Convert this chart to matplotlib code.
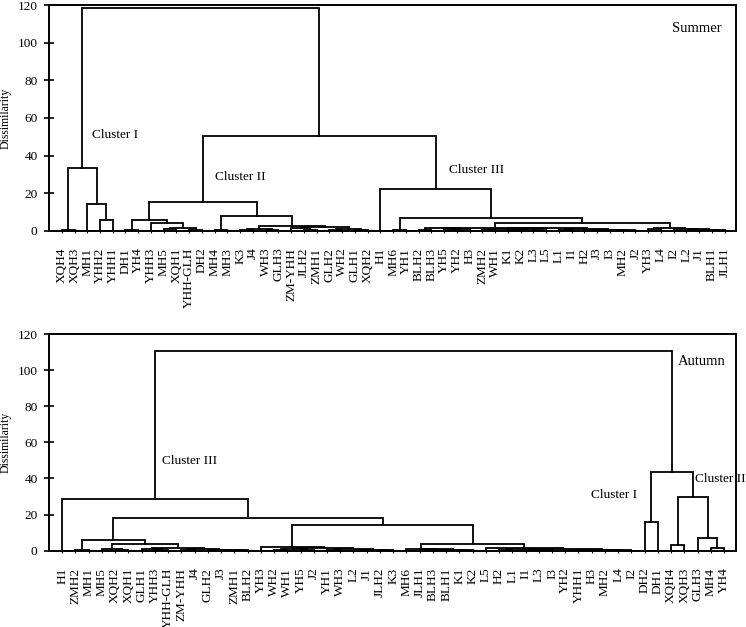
import matplotlib
matplotlib.use("Agg")
import matplotlib.pyplot as plt

plt.rcParams["font.family"] = ["Liberation Serif", "DejaVu Serif"]

# leaf order of each dendrogram (x axis categories)
summer_leaves = ["XQH4", "XQH3", "MH1", "YHH2", "YHH1", "DH1", "YH4", "YHH3", "MH5",
                 "XQH1", "YHH-GLH", "DH2", "MH4", "MH3", "K3", "J4", "WH3", "GLH3",
                 "ZM-YHH", "JLH2", "ZMH1", "GLH2", "WH2", "GLH1", "XQH2", "H1", "MH6",
                 "YH1", "BLH2", "BLH3", "YH5", "YH2", "H3", "ZMH2", "WH1", "K1", "K2",
                 "L3", "L5", "L1", "I1", "H2", "J3", "I3", "MH2", "J2", "YH3", "L4",
                 "I2", "L2", "J1", "BLH1", "JLH1"]

autumn_leaves = ["H1", "ZMH2", "MH1", "MH5", "XQH2", "XQH1", "GLH1", "YHH3", "YHH-GLH",
                 "ZM-YHH", "J4", "GLH2", "J3", "ZMH1", "BLH2", "YH3", "WH2", "WH1", "YH5",
                 "J2", "YH1", "WH3", "L2", "J1", "JLH2", "K3", "MH6", "JLH1", "BLH3",
                 "BLH1", "K1", "K2", "L5", "H2", "L1", "I1", "L3", "I3", "YH2", "YHH1",
                 "H3", "MH2", "L4", "I2", "DH2", "DH1", "XQH4", "XQH3", "GLH3", "MH4",
                 "YH4"]

# merges as [left, right, dissimilarity]
s_cluster1 = [["XQH4", "XQH3", 0.6], ["MH1", ["YHH2", "YHH1", 5.7], 14.2], 33.2]
s_c2_left = [["DH1", "YH4", 0.5],
             ["YHH3", [["MH5", "XQH1", 0.9], ["YHH-GLH", "DH2", 0.5], 1.4], 4.3], 5.7]
s_c2_right = [["MH4", "MH3", 0.5],
              [[["K3", "J4", 0.3], ["WH3", "GLH3", 0.4], 0.7],
               [["ZM-YHH", ["JLH2", "ZMH1", 0.6], 1.2],
                [["GLH2", "WH2", 0.5], ["GLH1", "XQH2", 0.4], 1.0], 1.8], 2.5], 7.8]
s_cluster2 = [s_c2_left, s_c2_right, 15.4]
s_c3_a = [[["BLH2", "BLH3", 0.5], [["YH5", "YH2", 0.3], "H3", 0.7], 1.2],
          [[["ZMH2", "WH1", 0.6], [["K1", "K2", 0.4], ["L3", "L5", 0.3], 0.8], 1.0],
           [["L1", "I1", 0.3], [["H2", "J3", 0.2], [["I3", "MH2", 0.2], "J2", 0.3], 0.5], 0.7],
           1.3], 1.6]
s_c3_b = [["YH3", "L4", 0.8], ["I2", ["L2", ["J1", ["BLH1", "JLH1", 0.2], 0.4], 0.7], 1.0], 1.4]
s_cluster3 = ["H1", [["MH6", "YH1", 0.3], [s_c3_a, s_c3_b, 3.9], 6.6], 22.0]
summer_tree = [s_cluster1, [s_cluster2, s_cluster3, 50.4], 118.3]

a_c3_left = [["ZMH2", "MH1", 0.4],
             [["MH5", ["XQH2", "XQH1", 0.3], 0.8],
              [["GLH1", ["YHH3", "YHH-GLH", 0.5], 0.8],
               [["ZM-YHH", "J4", 0.4], ["GLH2", ["J3", ["ZMH1", "BLH2", 0.2], 0.3], 0.5], 0.9],
               1.3], 3.5], 5.9]
a_c3_mid = ["YH3", [[["WH2", "WH1", 0.5], ["YH5", "J2", 0.4], 0.9],
                    [["YH1", "WH3", 0.5], [["L2", "J1", 0.3], ["JLH2", "K3", 0.3], 0.5], 0.8],
                    1.5], 2.2]
a_c3_right = [["MH6", ["JLH1", [["BLH3", "BLH1", 0.3], ["K1", "K2", 0.4], 0.6], 0.9], 1.2],
              ["L5", [[["H2", "L1", 0.3], [["I1", "L3", 0.4], "I3", 0.6], 0.8],
                      [[["YH2", "YHH1", 0.2], "H3", 0.3], [["MH2", "L4", 0.2], "I2", 0.3], 0.5],
                      0.9], 1.3], 3.7]
a_cluster3 = ["H1", [a_c3_left, [a_c3_mid, a_c3_right, 14.4], 18.3], 28.5]
a_cluster12 = [["DH2", "DH1", 15.7],
               [["XQH4", "XQH3", 3.2], ["GLH3", ["MH4", "YH4", 1.7], 6.8], 29.6], 43.7]
autumn_tree = [a_cluster3, a_cluster12, 110.6]

# text annotations: (text, x in leaf units, y)
summer_notes = [("Summer", 47.9, 107.5, 10.5), ("Cluster I", 2.35, 51.0, 9.5),
                ("Cluster II", 12.05, 28.7, 9.5), ("Cluster III", 30.4, 32.3, 9.5)]
autumn_notes = [("Autumn", 46.5, 105.0, 10.5), ("Cluster III", 7.5, 49.7, 9.5),
                ("Cluster I", 39.95, 30.8, 9.5), ("Cluster II", 47.8, 39.5, 9.5)]


def draw_node(ax, node, leaves):
    if isinstance(node, str):
        return leaves.index(node), 0.0
    left, right, h = node
    xl, hl = draw_node(ax, left, leaves)
    xr, hr = draw_node(ax, right, leaves)
    ax.plot([xl, xl, xr, xr], [hl, h, h, hr], color="black", lw=1.3,
            solid_joinstyle="miter", clip_on=False)
    return (xl + xr) / 2, h


def draw_panel(ax, tree, leaves, notes):
    draw_node(ax, tree, leaves)
    n = len(leaves)
    ax.set_xlim(-1.0, n - 0.1)
    ax.set_ylim(0, 120)
    ax.set_yticks(range(0, 121, 20))
    ax.set_xticks(range(n))
    ax.set_xticklabels(leaves, rotation=90, fontsize=9.5)
    ax.tick_params(axis="y", direction="inout", length=6.5, width=1.2, pad=5,
                   labelsize=9.5)
    ax.tick_params(axis="x", direction="inout", length=2.5, width=0.8, pad=11)
    for sp in ax.spines.values():
        sp.set_linewidth(1.4)
    ax.set_ylabel("Dissimilarity", fontsize=8.5)
    ax.yaxis.set_label_coords(-0.054, 0.5)
    for txt, x, y, fs in notes:
        ax.text(x, y, txt, ha="left", va="center", fontsize=fs, clip_on=False)


fig = plt.figure(figsize=(7.46, 6.27), dpi=100)
ax_top = fig.add_axes([0.0657, 0.6321, 0.9209, 0.3595])
ax_bot = fig.add_axes([0.0657, 0.1217, 0.9209, 0.3456])

draw_panel(ax_top, summer_tree, summer_leaves, summer_notes)
draw_panel(ax_bot, autumn_tree, autumn_leaves, autumn_notes)

fig.savefig("out.png", dpi=100)
